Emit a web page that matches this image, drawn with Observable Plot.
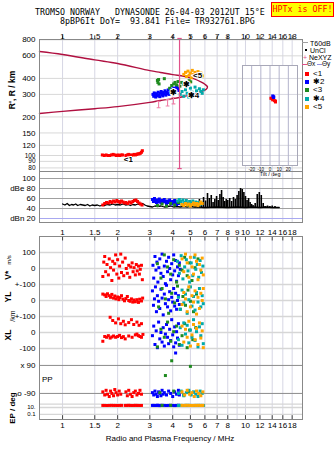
<!DOCTYPE html>
<html><head><meta charset="utf-8">
<script src="https://cdn.jsdelivr.net/npm/d3@7"></script>
<script src="https://cdn.jsdelivr.net/npm/@observablehq/plot@0.6"></script>
<style>
body{margin:0;background:#fff}
#page{position:relative;width:335px;height:451px;overflow:hidden;background:#fff;font-family:'Liberation Sans',Arial,sans-serif;color:#000}
.t{position:absolute;white-space:pre;line-height:1}
</style></head>
<body><div id="page"></div>
<script>
// ---------- tick labels ----------
const topTicks = [1,1.5,2,3,4,5,6,7,8,10,12,14,16,18];
const midTicks = [1,1.5,2,3,4,5,6,7,8,9,10,12,14,16,18];
const bottomTicks = [1,1.5,2,3,4,5,6,7,8,10,12,14,16,18];
const rTicks = [800,600,400,300,200,150,120,100,90,80];
const dbTicks = [100,80,60,40,20];
const dbTickLabels = ["100","dBe 80","60","40","dBn 20"];
const tiltTicks = [-20,-10,0,10,20];
// lower panel tracks: [track, value, label]
const lowerTicks = [["V",100,"100"],["V",0,"0"],["YL",100,"+-100"],["YL",0,"0"],["XL",100,"+-100"],["XL",0,"0"],["XL",-100,"-100"],["PP",90,"x 90"],["PP",-90,"o -90"],["EP",10,"10."],["EP",0.1,"0.1"]];
const seriesNames = ["<1","✱2","<3","✱4","<5"];
const seriesColors = ["#ff0000","#0000ff","#1f8a1f","#00aaaa","#ffa500"];
const legendTop = ["T60dB","UnCl","NeXYZ"];

// ---------- top panel (R') ----------
const modelCurve = [[0.748,649],[1,615],[1.5,558],[2,523],[3,460],[3.43,445],[4.0,428],[4.6,416],[5.2,398],[5.7,376],[6.0,360],[6.2,343],[6.1,329],[5.7,315],[5.2,300],[4.6,289],[4.0,278],[3.43,269],[3.0,260],[2,241],[1.5,232],[1,221],[0.748,213]];
const neLine = [[4.36,79,820]];
const neCaps = [[4.36,79],[4.36,820]];
const neXYZ = [[3.35,250],[3.75,258],[4.04,268]];
const redR = [[1.65,101],[1.69,100],[1.73,101],[1.77,100],[1.81,100],[1.85,101],[1.89,102],[1.93,101],[1.97,100],[2.01,101],[2.05,100],[2.09,101],[2.13,101],[2.22,100],[2.26,101],[2.3,102],[2.34,101],[2.38,100],[2.42,101],[2.46,102],[2.5,101],[2.54,102],[2.58,103],[2.62,103],[2.66,104],[2.7,106],[2.73,109]];
const blueR = [[3.12,300],[3.15,290],[3.17,308],[3.2,296],[3.23,286],[3.26,304],[3.3,292],[3.33,312],[3.36,298],[3.4,288],[3.43,306],[3.46,316],[3.5,300],[3.53,292],[3.56,310],[3.6,302],[3.63,320],[3.67,296],[3.7,312],[3.74,305],[3.78,325],[3.82,300],[3.86,316],[3.9,330],[3.94,308],[3.98,322],[4.02,312],[4.06,336],[4.1,318],[4.15,328],[4.2,342],[4.25,322],[4.3,334]];
const greenR = [[3.3,386],[3.32,372],[3.35,392],[3.37,362],[3.6,398],[3.85,335],[3.95,352],[4.05,362],[4.12,372],[4.2,356],[4.28,378],[4.38,348],[4.48,372],[4.58,360],[4.7,352],[4.82,370],[4.92,384],[5.02,376]];
const cyanR = [[4.4,300],[4.5,316],[4.6,290],[4.7,326],[4.8,306],[4.9,286],[5.0,336],[5.1,312],[5.2,296],[5.3,342],[5.4,320],[5.5,302],[5.6,332],[5.7,316],[5.8,306],[5.88,326]];
const orangeR = [[4.6,430],[4.7,446],[4.76,414],[4.85,456],[4.92,424],[5.0,440],[5.06,404],[5.12,462],[5.2,430],[5.3,446],[5.4,414],[5.5,452],[5.6,424],[5.7,440],[5.8,418]];
const clusterLabels = [["<1",2.29,94],["<5",5.47,420],["✱",4.75,362],["✱",4.04,310],["✱4",5.2,296]];
const tiltRed = [[1,280],[2,280],[3,276],[3,272],[5,268],[6,266],[6,262]];
const tiltBlue = [[3,292],[4,288],[4,284]];

// ---------- dBe panel ----------
const noise = [[1.0,49],[1.03,47],[1.06,50],[1.09,46],[1.12,48],[1.15,47],[1.18,49],[1.21,46],[1.25,48],[1.29,47],[1.33,46],[1.37,48],[1.41,45],[1.45,47],[1.5,46],[1.55,47],[1.6,45],[1.65,47],[1.7,46],[1.76,48],[1.82,47],[1.88,49],[1.94,47],[2.0,48],[2.07,47],[2.14,49],[2.21,47],[2.28,48],[2.35,46],[2.42,48],[2.5,47],[2.58,49],[2.66,48],[2.74,50],[2.82,47],[2.9,45],[3.0,44],[3.1,43],[3.2,45],[3.3,44],[3.45,45],[3.6,43],[3.75,44],[3.9,45],[4.05,43],[4.2,44],[4.4,43],[4.6,44],[4.8,43],[5.0,44],[5.2,43],[5.5,43],[6,42],[7,43],[8,42],[9,43],[10,42],[11,43],[12,42],[13,43],[14,42],[15.3,42]];
const barFreq = [5.3,5.45,5.6,5.75,5.9,6.05,6.2,6.35,6.5,6.65,6.8,6.95,7.1,7.25,7.4,7.55,7.7,7.85,8.0,8.2,8.4,8.6,8.8,9.0,9.2,9.4,9.6,9.8,10.0,10.2,10.4,10.6,10.8,11.0,11.3,11.6,11.9,12.2,12.5,12.8,13.2,13.6,14.0,14.5];
const barTop = [52,48,58,50,62,55,70,60,66,52,58,64,56,68,76,62,54,58,56,60,54,62,58,66,74,80,78,72,64,56,60,52,48,46,50,68,72,66,50,44,45,44,45,44];
const redDb = [[1.66,47],[1.7,50],[1.74,52],[1.78,51],[1.82,54],[1.86,52],[1.9,55],[1.94,53],[1.98,56],[2.02,54],[2.06,52],[2.1,55],[2.14,53],[2.18,51],[2.22,52],[2.27,50],[2.32,53],[2.37,51],[2.42,54],[2.47,56],[2.52,57],[2.57,54],[2.62,51],[2.67,49],[2.72,47]];
const blueDb = [[3.1,58],[3.14,54],[3.18,60],[3.22,55],[3.26,52],[3.3,57],[3.34,53],[3.38,59],[3.42,55],[3.46,51],[3.5,56],[3.55,53],[3.6,58],[3.65,54],[3.7,50],[3.75,55],[3.8,52],[3.85,57],[3.9,53],[3.95,49],[4.0,54],[4.05,51],[4.1,56],[4.15,52],[4.2,48],[4.25,53],[4.3,50]];
const greenDb = [[3.3,46],[3.5,49],[3.7,45],[3.9,50],[4.1,47],[4.3,52],[4.5,48],[4.7,51],[4.9,46],[5.1,49]];
const cyanDb = [[4.25,55],[4.35,58],[4.45,54],[4.55,57],[4.65,52],[4.75,56],[4.85,50],[4.95,54],[5.05,51],[5.15,55],[5.25,49],[5.35,53],[5.45,50],[5.55,52],[5.65,48],[5.75,51]];
const orangeDb = [[4.5,48],[4.6,46],[4.7,50],[4.8,47],[4.9,49],[5.0,45],[5.1,48],[5.2,51],[5.3,47],[5.4,50],[5.5,46],[5.6,49],[5.7,53],[5.8,50]];

// ---------- lower panel ----------
const redV = [[1.66,-50],[1.68,40],[1.7,75],[1.72,-20],[1.75,25],[1.78,-40],[1.8,60],[1.83,5],[1.86,-75],[1.88,45],[1.9,-10],[1.93,30],[1.95,85],[1.98,-35],[2.0,55],[2.03,-60],[2.05,15],[2.08,90],[2.1,-25],[2.13,40],[2.16,-45],[2.2,65],[2.23,0],[2.26,-30],[2.3,20],[2.33,-55],[2.36,10],[2.4,35],[2.43,-20],[2.46,5],[2.5,-40],[2.53,25],[2.56,-15],[2.6,15],[2.63,-35],[2.66,-5],[2.7,20],[2.73,-70]];
const redYL = [[1.66,40],[1.7,35],[1.73,25],[1.76,42],[1.8,30],[1.83,20],[1.86,38],[1.9,15],[1.93,28],[1.96,10],[2.0,22],[2.03,5],[2.06,18],[2.1,30],[2.14,8],[2.18,-2],[2.22,12],[2.26,25],[2.3,0],[2.34,-5],[2.38,10],[2.42,-10],[2.46,3],[2.5,-8],[2.55,5],[2.6,-12],[2.64,8],[2.7,-3],[2.74,15]];
const redXL = [[1.82,95],[1.88,75],[1.95,60],[2.02,85],[2.08,55],[2.15,70],[2.2,48],[2.3,62],[2.38,80],[2.45,50],[2.55,65],[2.62,45],[2.7,55],[1.66,-55],[1.7,-25],[1.74,-30],[1.78,-20],[1.82,-35],[1.86,-28],[1.9,-22],[1.95,-30],[2.0,-25],[2.05,-18],[2.1,-32],[2.15,-26],[2.2,-40],[2.3,-22],[2.4,-30],[2.5,-15],[2.55,-10],[2.6,-20],[2.65,-25],[2.7,-30],[2.75,-12]];
const blueV = [[3.12,20],[3.15,-60],[3.2,75],[3.24,-10],[3.28,40],[3.32,-85],[3.36,5],[3.4,60],[3.45,-30],[3.5,90],[3.55,-50],[3.6,15],[3.65,-95],[3.7,45],[3.75,-20],[3.8,70],[3.85,0],[3.9,-70],[3.95,30],[4.0,-40],[4.05,85],[4.1,-15],[4.15,50],[4.2,-80],[4.25,10],[4.3,-45],[4.35,35],[4.4,-5]];
const blueYL = [[3.1,60],[3.14,-30],[3.18,10],[3.22,85],[3.26,-70],[3.3,30],[3.35,-5],[3.4,-50],[3.45,70],[3.5,15],[3.55,-90],[3.6,40],[3.65,-20],[3.7,95],[3.75,-40],[3.8,5],[3.85,55],[3.9,-65],[3.95,20],[4.0,-10],[4.05,75],[4.1,-35],[4.15,45],[4.2,-55],[4.25,0],[4.3,30],[4.35,-25]];
const blueXL = [[3.1,-20],[3.15,40],[3.2,-75],[3.25,10],[3.3,-95],[3.35,65],[3.4,-40],[3.45,0],[3.5,-60],[3.55,30],[3.6,-85],[3.65,-10],[3.7,50],[3.75,-30],[3.8,-70],[3.85,20],[3.9,-50],[3.95,80],[4.0,-15],[4.05,-90],[4.1,35],[4.15,-65],[4.2,5],[4.25,-35],[4.3,55],[4.35,-80]];
const greenV = [[3.3,30],[3.45,-60],[3.6,85],[3.75,10],[3.9,-35],[4.05,55],[4.2,-85],[4.35,20],[4.5,-10],[4.65,70],[4.8,-45],[4.95,35],[5.1,-75],[5.3,5],[5.5,60]];
const greenYL = [[3.35,-40],[3.5,75],[3.65,10],[3.8,-80],[3.95,45],[4.1,-15],[4.25,90],[4.4,-55],[4.55,25],[4.7,-30],[4.85,65],[5.0,-5],[5.2,-70],[5.4,40]];
const greenXL = [[3.3,-90],[3.45,20],[3.6,-30],[3.75,65],[3.9,-55],[4.05,5],[4.2,40],[4.35,-75],[4.5,-20],[4.65,55],[4.8,-95],[4.95,15],[5.15,-45],[5.35,30]];
const cyanV = [[4.25,45],[4.35,-30],[4.45,80],[4.55,-65],[4.65,10],[4.75,55],[4.85,-15],[4.95,-85],[5.05,35],[5.15,-45],[5.25,70],[5.35,-5],[5.45,25],[5.55,-55],[5.65,50],[5.75,-25],[5.85,15]];
const cyanYL = [[4.3,20],[4.4,-55],[4.5,65],[4.6,-15],[4.7,40],[4.8,-80],[4.9,5],[5.0,85],[5.1,-35],[5.2,25],[5.3,-60],[5.4,50],[5.5,-10],[5.6,75],[5.7,-40],[5.8,30],[5.88,-20]];
const cyanXL = [[4.3,-45],[4.4,30],[4.5,-80],[4.6,60],[4.7,-10],[4.8,45],[4.9,-65],[5.0,15],[5.1,-30],[5.2,80],[5.3,-50],[5.4,5],[5.5,-90],[5.6,35],[5.7,-20],[5.8,55],[5.88,-70]];
const orangeV = [[4.5,60],[4.6,-20],[4.7,90],[4.8,35],[4.9,-55],[5.0,70],[5.1,10],[5.2,-35],[5.3,85],[5.4,45],[5.5,-70],[5.6,25],[5.7,-10],[5.8,65],[5.88,-40]];
const orangeYL = [[4.5,-25],[4.6,50],[4.7,10],[4.8,-70],[4.9,85],[5.0,-40],[5.1,30],[5.2,-10],[5.3,60],[5.4,-85],[5.5,20],[5.6,-50],[5.7,45],[5.8,0],[5.88,75]];
const orangeXL = [[4.5,40],[4.6,-60],[4.7,20],[4.8,-30],[4.9,70],[5.0,-85],[5.1,-15],[5.2,50],[5.3,-45],[5.4,25],[5.5,-75],[5.6,60],[5.7,-35],[5.8,10],[5.88,-95]];
const redPP = [[1.66,-80],[1.7,-100],[1.73,-70],[1.76,-95],[1.8,-110],[1.83,-75],[1.86,-90],[1.9,-105],[1.93,-65],[1.96,-85],[2.0,-100],[2.04,-75],[2.08,-95],[2.22,-80],[2.26,-105],[2.3,-70],[2.35,-95],[2.4,-110],[2.45,-85],[2.5,-75],[2.55,-100],[2.6,-90],[2.65,-70],[2.7,-95]];
const bluePP = [[3.1,-85],[3.15,-100],[3.2,-75],[3.25,-95],[3.3,-110],[3.35,-80],[3.4,-90],[3.45,-105],[3.5,-70],[3.55,-95],[3.6,-85],[3.7,-100],[3.8,-75],[3.9,-90],[4.0,-110],[4.1,-80],[4.2,-95],[4.3,-70],[4.15,170],[4.35,-100]];
const greenPP = [[3.95,120],[5.0,84],[3.65,25],[3.4,-85],[4.05,-75],[4.6,-100],[4.9,-80]];
const cyanPP = [[4.3,-90],[4.45,-75],[4.6,-105],[4.75,-85],[4.9,-70],[5.05,-100],[5.2,-80],[5.35,-95],[5.5,-110],[5.65,-75],[5.8,-90]];
const orangePP = [[4.5,-80],[4.65,-100],[4.8,-70],[4.95,-95],[5.1,-85],[5.25,-110],[5.4,-75],[5.55,-90],[5.7,-105],[5.85,-80]];
const redEP = [[1.66,40],[1.7,40],[1.75,38],[1.8,40],[1.85,42],[1.9,40],[1.95,40],[2.0,38],[2.05,40],[2.1,41],[2.2,40],[2.25,40],[2.3,43],[2.35,40],[2.4,38],[2.45,40],[2.5,42],[2.55,40],[2.6,40],[2.65,38],[2.7,40]];
const blueEP = [[3.1,40],[3.15,42],[3.2,38],[3.25,40],[3.3,45],[3.35,40],[3.4,36],[3.45,40],[3.5,43],[3.6,40],[3.7,38],[3.8,40],[3.9,42],[4.0,40],[4.1,37],[4.2,40],[4.3,44]];
const greenEP = [[3.5,40],[3.9,42],[4.3,39],[4.7,41]];
const cyanEP = [[4.3,40],[4.45,42],[4.6,38],[4.75,40],[4.9,43],[5.05,40],[5.2,38],[5.35,41],[5.5,40],[5.65,42],[5.8,40],[5.9,39]];
const orangeEP = [[4.5,41],[4.65,40],[4.8,43],[4.95,40],[5.1,38],[5.25,41],[5.4,40],[5.55,42],[5.7,39],[5.85,41]];

// ---------- helpers ----------
const FONT = "'Liberation Sans', Arial, sans-serif";
const MONO = "'DejaVu Sans Mono', 'Liberation Mono', monospace";
const page = document.getElementById("page");
const X = {type:"log", domain:[0.748,20.5], axis:null};
const GRIDX = "#d6d6e4";
function place(el, top, left){ el.style.position="absolute"; el.style.top=top+"px"; el.style.left=(left||0)+"px"; page.appendChild(el); return el; }
function txt(s, x, y, o){ o=o||{}; const d=document.createElement("div"); d.className="t"; d.textContent=s;
  d.style.left=x+"px"; d.style.top=y+"px"; d.style.fontSize=(o.size||8)+"px"; d.style.fontFamily=o.font||FONT;
  if(o.bold) d.style.fontWeight="bold"; if(o.color) d.style.color=o.color;
  d.style.transform=o.rot?"translate(-50%,-50%) rotate(-90deg)":(o.center?"translate(-50%,-50%)":"translate(0,-50%)");
  page.appendChild(d); return d; }
function box(x,y,w,h,color){ const d=document.createElement("div"); Object.assign(d.style,{position:"absolute",left:x+"px",top:y+"px",width:w+"px",height:h+"px",background:color}); page.appendChild(d); return d; }
function sq(data, yf, color){ return Plot.dot(data,{x:d=>d[0], y:d=>yf(d[1]), symbol:"square", r:1.7, fill:color}); }
function xLabels(ticks, anchor, dy){ return Plot.text(ticks,{x:d=>d, text:d=>String(d), frameAnchor:anchor, dy, fontSize:8}); }
const id = v=>v;
const hbar = {draw(ctx,size){const r=Math.sqrt(size/Math.PI); ctx.moveTo(-r,0); ctx.lineTo(r,0);}};
const ibeam = {draw(ctx,size){const r=Math.sqrt(size/Math.PI); ctx.moveTo(0,-r); ctx.lineTo(0,r); ctx.moveTo(-r*0.6,-r); ctx.lineTo(r*0.6,-r); ctx.moveTo(-r*0.6,r); ctx.lineTo(r*0.6,r);}};
const baseStyle = {fontSize:"8px", fontFamily:FONT, background:"none", overflow:"visible", color:"#000"};
const [cR,cB,cG,cC,cO] = seriesColors;

// ---------- header ----------
txt("TROMSO NORWAY   DYNASONDE 26-04-03 2012UT 15°E", 35, 12, {font:MONO, size:8.3});
txt("8pBP6It DoY=  93.841 File= TR932761.BPG", 60, 20.5, {font:MONO, size:8.3});
const hp = document.createElement("div");
Object.assign(hp.style,{position:"absolute",left:"271px",top:"2px",width:"63px",height:"15px",boxSizing:"border-box",background:"#ffff00",border:"1px solid #ff0000",color:"#ff0000",fontFamily:MONO,fontSize:"8.3px",lineHeight:"13px",textAlign:"center",whiteSpace:"pre"});
hp.textContent="HPTx is OFF!"; page.appendChild(hp);

// ---------- panel A ----------
const pA = Plot.plot({
  width:335, height:146, marginTop:14, marginBottom:0, marginLeft:39, marginRight:33,
  x:X, y:{type:"log", domain:[75,805], axis:null}, style:baseStyle,
  marks:[
    Plot.gridX(midTicks,{stroke:GRIDX, strokeOpacity:1}),
    Plot.gridY(rTicks,{stroke:"#d8d8d8", strokeOpacity:1}),
    Plot.ruleX(topTicks,{x:d=>d, y1:805, y2:860, stroke:"#444"}),
    xLabels(topTicks, "top", -6),
    Plot.text(rTicks,{y:d=>d, text:d=>String(d), frameAnchor:"left", dx:-4, textAnchor:"end", fontSize:d=>d<=100?6.5:8}),
    Plot.line(modelCurve,{x:d=>d[0], y:d=>d[1], stroke:"#b01040", strokeWidth:1.4, curve:"catmull-rom"}),
    sq(redR,id,cR), sq(blueR,id,cB), sq(greenR,id,cG), sq(cyanR,id,cC), sq(orangeR,id,cO),
    Plot.ruleX(neLine,{x:d=>d[0], y1:d=>d[1], y2:d=>d[2], stroke:"#e0508a", strokeWidth:1.2}),
    Plot.dot(neCaps,{x:d=>d[0], y:d=>d[1], symbol:hbar, r:2.2, stroke:"#e0508a", strokeWidth:1.2}),
    Plot.dot(neXYZ,{x:d=>d[0], y:d=>d[1], symbol:ibeam, r:3.2, stroke:"#f080a8", strokeWidth:1.1}),
    Plot.text(clusterLabels,{x:d=>d[1], y:d=>d[2], text:d=>d[0], fill:"#000", stroke:"#fff", strokeWidth:2, fontSize:8, fontWeight:"bold"}),
    Plot.frame({stroke:"#888"})
  ]
});
place(pA, 25);

// tilt inset
const pT = Plot.plot({
  width:65, height:115, marginTop:0, marginBottom:15, marginLeft:5, marginRight:5,
  x:{domain:[-30,30]}, y:{type:"log", domain:[83.5,505], axis:null}, style:Object.assign({},baseStyle,{fontSize:"4.5px"}),
  marks:[
    Plot.frame({fill:"#fff", stroke:"none"}),
    Plot.gridY(rTicks.filter(d=>d<500&&d>84),{stroke:"#d8d8e0", strokeOpacity:1}),
    Plot.gridX(tiltTicks,{stroke:"#b4b4cc", strokeOpacity:1}),
    Plot.axisX(tiltTicks,{anchor:"bottom", tickSize:0, tickPadding:2, label:null, tickFormat:d=>String(d), fontSize:4.5}),
    Plot.text(["Tilt / deg"],{frameAnchor:"bottom", dy:10.5, text:d=>d, fontSize:5.5}),
    sq(tiltRed,id,cR), sq(tiltBlue,id,cB),
    Plot.frame({stroke:"#a8a8b8"})
  ]
});
place(pT, 65, 237);

// ---------- panel B (dBe) ----------
const dbLab = new Map(dbTicks.map((t,i)=>[t,dbTickLabels[i]]));
const pB = Plot.plot({
  width:335, height:51, marginTop:0, marginBottom:0, marginLeft:39, marginRight:33,
  x:X, y:{domain:[12,114]}, style:baseStyle,
  marks:[
    Plot.gridX(midTicks,{stroke:GRIDX, strokeOpacity:1}),
    Plot.ruleY(dbTicks.filter(d=>d>20),{stroke:"#a0a0a0"}),
    Plot.ruleY(dbTicks.filter(d=>d===20),{stroke:"#a8a8f0"}),
    Plot.axisY(dbTicks,{anchor:"left", tickSize:0, tickPadding:4, label:null, tickFormat:d=>dbLab.get(d)}),
    Plot.ruleX(barFreq,{x:d=>d, y1:41, y2:(d,i)=>barTop[i], stroke:"#000", strokeWidth:1.6}),
    Plot.line(noise,{x:d=>d[0], y:d=>d[1], stroke:"#000", strokeWidth:1.3}),
    sq(redDb,id,cR), sq(blueDb,id,cB), sq(greenDb,id,cG), sq(cyanDb,id,cC), sq(orangeDb,id,cO),
    Plot.frame({stroke:"#888"})
  ]
});
place(pB, 171);

// ---------- panel C ----------
const track = {
  V: v=>400+v, YL: v=>200+v, XL: v=>v,
  PP: p=>-293.5+p*0.972, EP: e=>-512+(Math.log10(e)+1)*21.5
};
const lowTickRows = lowerTicks.map(t=>({y:track[t[0]](t[1]), label:t[2], small:t[0]==="EP"}));
const lightLines = lowerTicks.filter(t=>t[0]!=="PP").map(t=>track[t[0]](t[1])).concat([track.EP(100)]);
const ppLines = lowerTicks.filter(t=>t[0]==="PP").map(t=>track[t[0]](t[1]));
const pC = Plot.plot({
  width:335, height:229, marginTop:14, marginBottom:32, marginLeft:39, marginRight:33,
  x:X, y:{domain:[-544,600], axis:null}, style:baseStyle,
  marks:[
    Plot.gridX(midTicks,{stroke:GRIDX, strokeOpacity:1}),
    Plot.ruleY(lightLines,{stroke:"#d6d6d6", strokeWidth:1.3}),
    Plot.ruleY(ppLines,{stroke:"#8c8c8c"}),
    Plot.text(lowTickRows,{y:"y", text:"label", frameAnchor:"left", dx:-4, textAnchor:"end", fontSize:d=>d.small?6:8}),
    xLabels(midTicks, "top", -7),
    xLabels(bottomTicks, "bottom", 8),
    Plot.ruleX(midTicks,{x:d=>d, y1:600, y2:572, stroke:"#444"}),
    Plot.ruleX(bottomTicks,{x:d=>d, y1:-544, y2:-520, stroke:"#444"}),
    sq(redV,track.V,cR), sq(redYL,track.YL,cR), sq(redXL,track.XL,cR), sq(redPP,track.PP,cR), sq(redEP,track.EP,cR),
    sq(blueV,track.V,cB), sq(blueYL,track.YL,cB), sq(blueXL,track.XL,cB), sq(bluePP,track.PP,cB), sq(blueEP,track.EP,cB),
    sq(greenV,track.V,cG), sq(greenYL,track.YL,cG), sq(greenXL,track.XL,cG), sq(greenPP,track.PP,cG), sq(greenEP,track.EP,cG),
    sq(cyanV,track.V,cC), sq(cyanYL,track.YL,cC), sq(cyanXL,track.XL,cC), sq(cyanPP,track.PP,cC), sq(cyanEP,track.EP,cC),
    sq(orangeV,track.V,cO), sq(orangeYL,track.YL,cO), sq(orangeXL,track.XL,cO), sq(orangePP,track.PP,cO), sq(orangeEP,track.EP,cO),
    Plot.frame({stroke:"#888"})
  ]
});
place(pC, 222);

// ---------- axis titles ----------
txt("R', R / km", 12, 90, {rot:true, bold:true, size:8.5});
txt("V* ", 8, 274, {rot:true, bold:true, size:8.5});
txt("m/s", 9, 260, {rot:true, size:6});
txt("YL", 8, 297, {rot:true, bold:true, size:8.5});
txt("/km", 12, 316, {rot:true, size:7});
txt("XL", 8, 335, {rot:true, bold:true, size:8.5});
txt("PP", 42, 380, {size:8});
txt("EP / deg", 13, 408, {rot:true, bold:true, size:8});
txt("Radio and Plasma Frequency / MHz", 170, 439, {center:true, size:8});

// ---------- legend ----------
box(302,42,6,1,"#a0a0a0"); txt(legendTop[0],310,42.5,{size:7});
box(305,49,2,2,"#000"); txt(legendTop[1],310,50,{size:7});
txt("+",303,57,{size:7,color:"#e0508a"}); txt(legendTop[2],309,57,{size:7});
box(302,63.5,5,1,"#e0508a"); txt("Θx",307,64,{size:6.5});
box(317,63.5,5,1,"#9090e0"); txt("Θy",322,64,{size:6.5});
seriesNames.forEach((s,i)=>{ const y=74+i*8.2; box(305,y-2,4,4,seriesColors[i]); txt(s,313,y,{size:8}); });
</script>
</body></html>
